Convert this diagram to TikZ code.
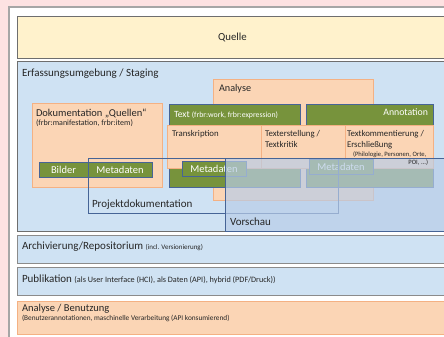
\documentclass[tikz,border=0pt]{standalone}
\usepackage{fontspec}
\setmainfont{Carlito}
\definecolor{pagepink}{RGB}{253, 226, 226}
\definecolor{framegray}{RGB}{166, 166, 166}
\definecolor{bandgray}{RGB}{110, 110, 110}
\definecolor{quelleyellow}{RGB}{255, 242, 204}
\definecolor{stageblue}{RGB}{207, 226, 243}
\definecolor{workorange}{RGB}{251, 213, 181}
\definecolor{orangeline}{RGB}{244, 177, 131}
\definecolor{workgreen}{RGB}{119, 147, 60}
\definecolor{edgeblue}{RGB}{70, 100, 150}
\definecolor{previewblue}{RGB}{185, 205, 232}
\definecolor{inkgray}{RGB}{38, 38, 38}
\usepackage{tikz}
\usetikzlibrary{positioning}

\begin{document}
\begin{tikzpicture}[x=1pt, y=-1pt,
  every node/.style={inner sep=0pt, outer sep=0pt},
  band/.style={draw=bandgray, line width=0.8pt, anchor=north west},
  workbox/.style={draw=orangeline, fill=workorange, line width=0.5pt, anchor=north west},
  greenbox/.style={draw=edgeblue, fill=workgreen, line width=0.8pt, anchor=north west},
  lbl/.style={anchor=base west, text=inkgray, font=\fontsize{11}{13}\selectfont},
  small/.style={anchor=base west, text=inkgray, font=\fontsize{8.8}{10}\selectfont},
  white/.style={text=white, font=\fontsize{10.5}{12}\selectfont}]
  \useasboundingbox (0,0) rectangle (444,337);
  \clip (0,0) rectangle (444,337);
  \fill[pagepink] (0,0) rectangle (444,337);
  \node[draw=framegray, fill=white, line width=1.5pt, anchor=north west,
    minimum width=460pt, minimum height=345pt] (frame) at (9,7) {};

  % bands
  \node[band, fill=quelleyellow, minimum width=435pt, minimum height=42pt] (quelle) at (17,16)
    {\hspace{-4pt}\textcolor{inkgray}{\fontsize{10.8}{12}\selectfont Quelle}};
  \node[band, fill=stageblue, minimum width=435pt, minimum height=170pt] (stage) at (17,61) {};
  \node[band, fill=stageblue, draw=bandgray!80, minimum width=435pt, minimum height=28pt] (archiv) at (17,235) {};
  \node[band, fill=stageblue, draw=bandgray!80, minimum width=435pt, minimum height=28pt] (publik) at (17,267) {};
  \node[workbox, minimum width=435pt, minimum height=33pt] (nutzung) at (17,301) {};

  % staging
  \node[workbox, minimum width=160pt, minimum height=121pt] (analyse) at (213,79) {};
  \node[workbox, minimum width=130pt, minimum height=84pt] (doku) at (32,103) {};
  \node[greenbox, minimum width=131pt, minimum height=83pt] (text) at (169,104) {};
  \node[greenbox, minimum width=127pt, minimum height=83pt] (annot) at (306,104) {};
  \node[workbox, minimum width=94pt, minimum height=43pt] (transk) at (167,125) {};
  \node[workbox, minimum width=84pt, minimum height=43pt] (kritik) at (261,125) {};
  \node[workbox, minimum width=88pt, minimum height=43pt] (komment) at (345,125) {};
  \node[greenbox, white, minimum width=49pt, minimum height=15pt] (bilder) at (39,162) {Bilder};
  \node[greenbox, white, minimum width=64pt, minimum height=15pt] (meta1) at (88,162) {Metadaten};
  \node[greenbox, white, minimum width=64pt, minimum height=15pt] (meta2) at (182,161) {Metadaten};
  \node[greenbox, white, minimum width=64pt, minimum height=15pt] (meta3) at (309,159) {Metadaten};
  \node[draw=edgeblue, line width=0.8pt, anchor=north west, minimum width=250pt, minimum height=55pt] (projdoku) at (88,158) {};
  \node[draw=edgeblue, line width=0.8pt, fill=previewblue, fill opacity=0.7, anchor=north west,
    minimum width=227pt, minimum height=73pt] (vorschau) at (225,158) {};

  % labels
  \node[lbl] (stagelbl) at (22,77) {Erfassungsumgebung / Staging};
  \node[lbl, font=\fontsize{10.2}{12}\selectfont] (analyselbl) at (219,91.5) {Analyse};
  \node[lbl, font=\fontsize{10.5}{12}\selectfont] (dokulbl) at (36,116) {Dokumentation „Quellen“};
  \node[small, font=\fontsize{8}{9}\selectfont] (dokusub) at (36,125.5) {(frbr:manifestation, frbr:item)};
  \node[white, anchor=base west, font=\fontsize{9.5}{11}\selectfont] (textlbl) at (174,117)
    {Text {\fontsize{7.8}{9}\selectfont (frbr:work, frbr:expression)}};
  \node[white, anchor=base east, font=\fontsize{9.8}{11}\selectfont] (annotlbl) at (428,115) {Annotation};
  \node[small] (transklbl) at (172,136) {Transkription};
  \node[small] (kritiklbl) at (265,136.5) {Texterstellung /};
  \node[small] (kritiklbl2) at (265,147) {Textkritik};
  \node[small] (kommentlbl) at (347,136.5) {Textkommentierung /};
  \node[small] (kommentlbl2) at (347,147) {Erschließung};
  \node[small, font=\fontsize{6.6}{7}\selectfont] (kommentsub) at (353,156) {(Philologie, Personen, Orte,};
  \node[small, anchor=base east, font=\fontsize{6.6}{7}\selectfont] (kommentsub2) at (428,164.5) {POI, ...)};
  \node[lbl] (projdokulbl) at (92,207) {Projektdokumentation};
  \node[lbl] (vorschaulbl) at (230,225.5) {Vorschau};
  \node[lbl] (archivlbl) at (22,249)
    {Archivierung/Repositorium {\fontsize{7}{8}\selectfont (incl. Versionierung)}};
  \node[lbl] (publiklbl) at (22,282)
    {Publikation {\fontsize{8.2}{9}\selectfont (als User Interface (HCI), als Daten (API), hybrid (PDF/Druck))}};
  \node[lbl, font=\fontsize{10.5}{12}\selectfont] (nutzunglbl) at (22,311) {Analyse / Benutzung};
  \node[small, font=\fontsize{7.3}{8}\selectfont] (nutzungsub) at (22,320.5)
    {(Benutzerannotationen, maschinelle Verarbeitung (API konsumierend)};
\end{tikzpicture}
\end{document}
